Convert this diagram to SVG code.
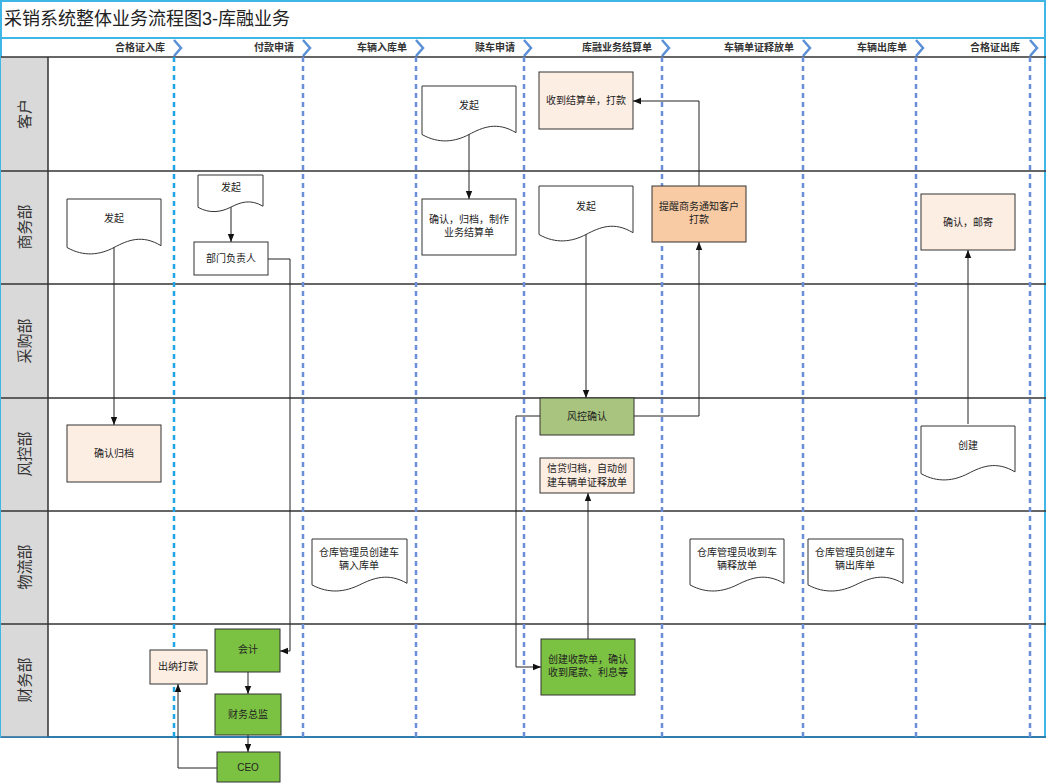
<svg xmlns="http://www.w3.org/2000/svg" width="1048" height="783" viewBox="0 0 1048 783">
<style>
text{font-family:"Liberation Sans","Noto Sans CJK SC",sans-serif;font-size:10px;fill:#222}
.t{text-anchor:middle}
.hd{font-size:10px;text-anchor:end;font-weight:bold;fill:#333}
.ln{font-size:15px;text-anchor:middle;fill:#333}
.box{stroke:#333;stroke-width:1}
.doc{fill:#fff;stroke:#333;stroke-width:1}
.c{fill:none;stroke:#222;stroke-width:1}
.dv{stroke:#6a8fd8;stroke-width:2.5;stroke-dasharray:5,4}
.dv1{stroke:#1fa5e6;stroke-width:2.5;stroke-dasharray:5,4}
.ch{fill:none;stroke:#5b8fd6;stroke-width:2.5}
</style>
<defs>
<marker id="a" viewBox="0 0 10 10" refX="10" refY="5" markerWidth="8" markerHeight="8" orient="auto"><path d="M0,1 L10,5 L0,9 Z" fill="#111"/></marker>
</defs>
<rect width="1048" height="783" fill="#fff"/>
<g id="frame">
<rect x="1" y="1" width="1044" height="736" fill="none" stroke="#3fb6e6" stroke-width="2"/>
<line x1="1" y1="38" x2="1045" y2="38" stroke="#3fb6e6" stroke-width="2"/>
<text x="4" y="25" style="font-size:18px">采销系统整体业务流程图3-库融业务</text>
<rect x="1" y="57" width="47" height="680" fill="#d9d9d9"/>
<g stroke="#333" stroke-width="1.5">
<line x1="1" y1="57" x2="1046" y2="57"/><line x1="1" y1="171" x2="1046" y2="171"/><line x1="1" y1="284" x2="1046" y2="284"/><line x1="1" y1="398" x2="1046" y2="398"/><line x1="1" y1="511" x2="1046" y2="511"/><line x1="1" y1="624" x2="1046" y2="624"/>
<line x1="48" y1="57" x2="48" y2="737"/>
</g>
<line x1="1" y1="737" x2="1046" y2="737" stroke="#2a6a9a" stroke-width="1.5"/>
<text class="ln" transform="translate(30,114) rotate(-90)">客户</text>
<text class="ln" transform="translate(30,227) rotate(-90)">商务部</text>
<text class="ln" transform="translate(30,341) rotate(-90)">采购部</text>
<text class="ln" transform="translate(30,454) rotate(-90)">风控部</text>
<text class="ln" transform="translate(30,567) rotate(-90)">物流部</text>
<text class="ln" transform="translate(30,680) rotate(-90)">财务部</text>
<line class="dv1" x1="174" y1="57" x2="174" y2="737"/>
<line class="dv" x1="303" y1="57" x2="303" y2="737"/>
<line class="dv" x1="416" y1="57" x2="416" y2="737"/>
<line class="dv" x1="524" y1="57" x2="524" y2="737"/>
<line class="dv" x1="662" y1="57" x2="662" y2="737"/>
<line class="dv" x1="803" y1="57" x2="803" y2="737"/>
<line class="dv" x1="916" y1="57" x2="916" y2="737"/>
<line class="dv" x1="1030" y1="57" x2="1030" y2="737"/>
<path class="ch" d="M174,40 L181,48 L174,56" stroke="#1fa5e6"/>
<path class="ch" d="M303,40 L310,48 L303,56"/>
<path class="ch" d="M416,40 L423,48 L416,56"/>
<path class="ch" d="M524,40 L531,48 L524,56"/>
<path class="ch" d="M662,40 L669,48 L662,56"/>
<path class="ch" d="M803,40 L810,48 L803,56"/>
<path class="ch" d="M916,40 L923,48 L916,56"/>
<path class="ch" d="M1030,40 L1037,48 L1030,56"/>
<text class="hd" x="165" y="51">合格证入库</text>
<text class="hd" x="294" y="51">付款申请</text>
<text class="hd" x="407" y="51">车辆入库单</text>
<text class="hd" x="515" y="51">赎车申请</text>
<text class="hd" x="652" y="51">库融业务结算单</text>
<text class="hd" x="794" y="51">车辆单证释放单</text>
<text class="hd" x="907" y="51">车辆出库单</text>
<text class="hd" x="1020" y="51">合格证出库</text>
</g>
<g id="connectors">
<path class="c" d="M114,247 V425" marker-end="url(#a)"/>
<path class="c" d="M231,207 V242" marker-end="url(#a)"/>
<path class="c" d="M268,259 H290 V651 H280" marker-end="url(#a)"/>
<path class="c" d="M248,672 V694" marker-end="url(#a)"/>
<path class="c" d="M248,735 V752" marker-end="url(#a)"/>
<path class="c" d="M217,768 H178 V684" marker-end="url(#a)"/>
<path class="c" d="M469,134 V199" marker-end="url(#a)"/>
<path class="c" d="M586,234 V398" marker-end="url(#a)"/>
<path class="c" d="M634,416 H699 V242" marker-end="url(#a)"/>
<path class="c" d="M699,186 V101 H633" marker-end="url(#a)"/>
<path class="c" d="M540,416 H516 V667 H541" marker-end="url(#a)"/>
<path class="c" d="M588,639 V493" marker-end="url(#a)"/>
<path class="c" d="M968,424 V250" marker-end="url(#a)"/>
</g>
<g id="n1"><path class="doc" d="M67,199 H161 V245.7 C142.2,234.3 128.1,240 114,247.5 C99.9,254.9 83.9,257.1 67,247.5 Z"/><text class="t" x="114" y="222">发起</text></g>
<g id="n2"><rect class="box" x="67" y="425" width="94" height="57" fill="#fdeee4"/><text class="t" x="114" y="457">确认归档</text></g>
<g id="n3"><path class="doc" d="M198,175 H263 V206.2 C250,198.6 240.3,202.4 230.5,207.3 C220.8,212.2 209.7,213.8 198,207.3 Z"/><text class="t" x="231" y="191">发起</text></g>
<g id="n4"><rect class="box" x="194" y="242" width="74" height="33" fill="#fff"/><text class="t" x="231" y="262">部门负责人</text></g>
<g id="n5"><rect class="box" x="215" y="629" width="65" height="43" fill="#7cc242"/><text class="t" x="248" y="653">会计</text></g>
<g id="n6"><rect class="box" x="215" y="694" width="66" height="41" fill="#7cc242"/><text class="t" x="248" y="718">财务总监</text></g>
<g id="n7"><rect class="box" x="217" y="752" width="63" height="30" fill="#7cc242"/><text class="t" x="248" y="771">CEO</text></g>
<g id="n8"><rect class="box" x="150" y="650" width="57" height="34" fill="#fdeee4"/><text class="t" x="178" y="670">出纳打款</text></g>
<g id="n9"><path class="doc" d="M422,86 H516 V132.7 C497.2,121.3 483.1,127 469,134.5 C454.9,141.9 438.9,144.1 422,134.5 Z"/><text class="t" x="469" y="109">发起</text></g>
<g id="n10"><rect class="box" x="422" y="199" width="94" height="56" fill="#fff"/><text class="t" x="469" y="223">确认，归档，制作</text><text class="t" x="469" y="236">业务结算单</text></g>
<g id="n11"><rect class="box" x="539" y="72" width="94" height="57" fill="#fdeee4"/><text class="t" x="586" y="104">收到结算单，打款</text></g>
<g id="n12"><path class="doc" d="M539,186 H633 V232.7 C614.2,221.3 600.1,227 586,234.5 C571.9,241.9 555.9,244.1 539,234.5 Z"/><text class="t" x="586" y="210">发起</text></g>
<g id="n13"><rect class="box" x="652" y="186" width="94" height="56" fill="#f8cba4"/><text class="t" x="699" y="210">提醒商务通知客户</text><text class="t" x="699" y="223">打款</text></g>
<g id="n14"><rect class="box" x="540" y="398" width="94" height="37" fill="#a9c47f"/><text class="t" x="587" y="420">风控确认</text></g>
<g id="n15"><rect class="box" x="540" y="458" width="94" height="35" fill="#fdeee4"/><text class="t" x="587" y="472">信贷归档，自动创</text><text class="t" x="587" y="486">建车辆单证释放单</text></g>
<g id="n16"><rect class="box" x="541" y="639" width="94" height="56" fill="#7cc242"/><text class="t" x="588" y="663">创建收款单，确认</text><text class="t" x="588" y="676">收到尾款、利息等</text></g>
<g id="n17"><path class="doc" d="M312,539 H407 V583.3 C388,572.5 373.8,577.9 359.5,584.9 C345.3,591.9 329.1,594.1 312,584.9 Z"/><text class="t" x="359" y="556">仓库管理员创建车</text><text class="t" x="359" y="569">辆入库单</text></g>
<g id="n18"><path class="doc" d="M690,539 H784 V583.3 C765.2,572.5 751.1,577.9 737,584.9 C722.9,591.9 706.9,594.1 690,584.9 Z"/><text class="t" x="737" y="556">仓库管理员收到车</text><text class="t" x="737" y="569">辆释放单</text></g>
<g id="n19"><path class="doc" d="M808,539 H903 V583.3 C884,572.5 869.8,577.9 855.5,584.9 C841.3,591.9 825.1,594.1 808,584.9 Z"/><text class="t" x="855" y="556">仓库管理员创建车</text><text class="t" x="855" y="569">辆出库单</text></g>
<g id="n20"><path class="doc" d="M921,426 H1015 V471.9 C996.2,460.7 982.1,466.3 968,473.6 C953.9,480.9 937.9,483.1 921,473.6 Z"/><text class="t" x="968" y="449">创建</text></g>
<g id="n21"><rect class="box" x="921" y="194" width="94" height="56" fill="#fdeee4"/><text class="t" x="968" y="226">确认，邮寄</text></g>
</svg>
